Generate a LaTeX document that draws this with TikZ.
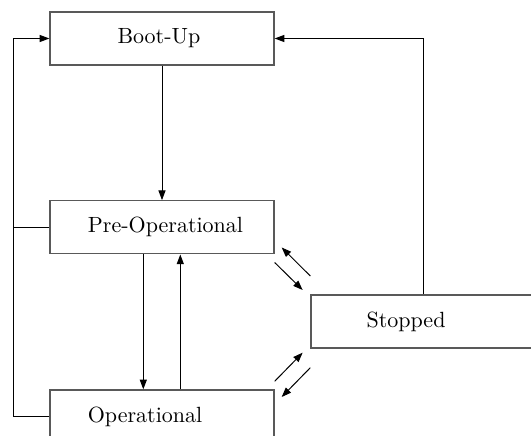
\documentclass[tikz,border=0pt]{standalone}
\usepackage{amsmath}
\usepackage{tikz}
\usetikzlibrary{arrows.meta,calc}

\begin{document}
\begin{tikzpicture}[x=0.4545pt, y=-0.4545pt,
    state/.style={draw=black!65, line width=0.6pt, minimum width=101.8pt, minimum height=24.1pt, inner sep=0pt},
    arr/.style={-{Triangle[length=4.4pt, width=3.2pt]}, line width=0.45pt}]
        \useasboundingbox (0,0) rectangle (531,436);
        \clip (0,0) rectangle (531,436);

        \node[state, label={[xshift=-1.4pt]center:Boot-Up}] (boot) at (162,38.5) {};
        \node[state, label={[xshift=1.6pt]center:Pre-Operational}] (preop) at (162,227.3) {};
        \node[state, label={[xshift=-7.7pt]center:Operational}] (op) at (162,416.5) {};
        \node[state, label={[xshift=-7.7pt]center:Stopped}] (stop) at (423,321.5) {};
        \coordinate (lft) at (13.3,0);

        \draw[arr] (boot) -- (preop);
        \draw[arr] ($(preop.south)+(-18.7,0)$) -- ($(op.north)+(-18.7,0)$);
        \draw[arr] ($(op.north)+(18.3,0)$) -- ($(preop.south)+(18.3,0)$);
        \draw[arr] (op.west) -- (op.west -| lft) |- (boot.west);
        \draw[line width=0.45pt] (preop.west) -- (preop.west -| lft);
        \draw[arr] (stop.north) |- (boot.east);

        \draw[arr] ($(preop.south east)+(0,8)$) -- ($(stop.north west)+(-7.7,-4.3)$);
        \draw[arr] ($(stop.north west)+(0,-18.3)$) -- ($(preop.south east)+(7,-7)$);
        \draw[arr] ($(op.north east)+(0,-8)$) -- ($(stop.south west)+(-7.7,4)$);
        \draw[arr] ($(stop.south west)+(0,19)$) -- ($(op.north east)+(7,7.7)$);
      \end{tikzpicture}
\end{document}
